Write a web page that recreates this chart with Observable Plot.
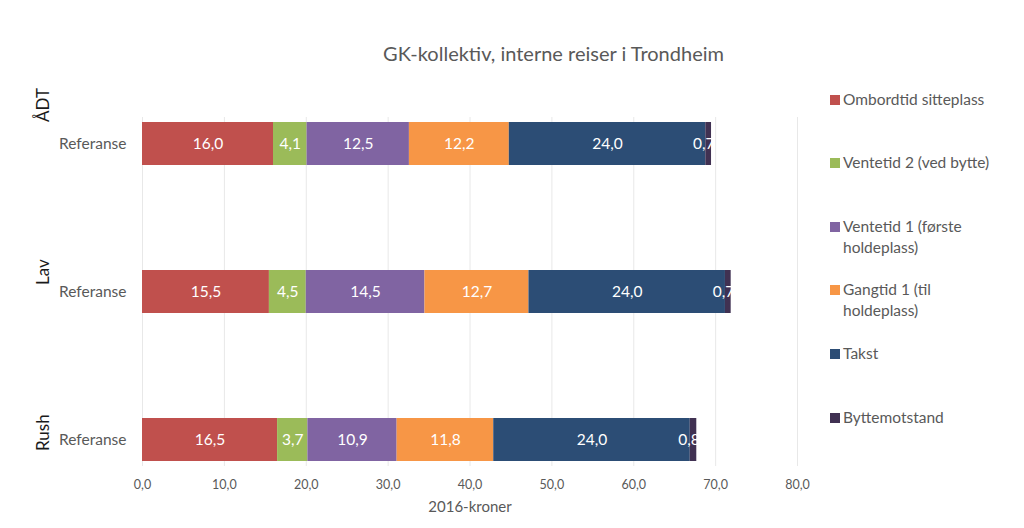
<!DOCTYPE html>
<html>
<head>
<meta charset="utf-8">
<script src="https://cdn.jsdelivr.net/npm/d3@7"></script>
<script src="https://cdn.jsdelivr.net/npm/@observablehq/plot@0.6"></script>
<style>
  html, body { margin: 0; padding: 0; background: #fff; }
  #wrap { position: relative; width: 1024px; height: 528px; font-family: Lato, "Open Sans", sans-serif; }
  #title { position: absolute; left: 142px; width: 823px; top: 41px; text-align: center; font-size: 20px; color: #595959; }
  #legend { position: absolute; left: 830px; top: 0; }
  .item { position: absolute; left: 0; width: 194px; font-size: 15.5px; color: #595959; line-height: 21px; white-space: nowrap; }
  .sw { position: absolute; left: 0; top: 6px; width: 10px; height: 10px; }
  .lab { position: absolute; left: 13px; top: 0; }
</style>
</head>
<body>
<div id="wrap">
  <div id="title"></div>
  <div id="legend"></div>
</div>
<script>
const title = "GK-kollektiv, interne reiser i Trondheim";
const groups = ["ÅDT", "Lav", "Rush"];
const rowLabel = "Referanse";
const series = ["Ombordtid sitteplass", "Ventetid 2 (ved bytte)", "Ventetid 1 (første holdeplass)", "Gangtid 1 (til holdeplass)", "Takst", "Byttemotstand"];
const legendLines = [["Ombordtid sitteplass"], ["Ventetid 2 (ved bytte)"], ["Ventetid 1 (første", "holdeplass)"], ["Gangtid 1 (til", "holdeplass)"], ["Takst"], ["Byttemotstand"]];
const colors = ["#C0504D", "#9BBB59", "#8064A2", "#F79646", "#2C4D75", "#403152"];
const valuesADT  = [16.0, 4.1, 12.5, 12.2, 24.0, 0.7];
const valuesLav  = [15.5, 4.5, 14.5, 12.7, 24.0, 0.7];
const valuesRush = [16.5, 3.7, 10.9, 11.8, 24.0, 0.8];
const xTicks = [0, 10, 20, 30, 40, 50, 60, 70, 80];
const xLabel = "2016-kroner";

const byGroup = [valuesADT, valuesLav, valuesRush];
const data = [];
groups.forEach((g, gi) => series.forEach((s, si) => data.push({group: g, series: s, value: byGroup[gi][si]})));

const fmt = v => v.toFixed(1).replace(".", ",");

document.getElementById("title").textContent = title;

const chart = Plot.plot({
  width: 1024,
  height: 528,
  marginLeft: 142,
  marginRight: 227,
  marginTop: 117,
  marginBottom: 62,
  style: {fontFamily: "Lato, 'Open Sans', sans-serif", background: "transparent"},
  x: {domain: [0, 80], ticks: xTicks},
  y: {domain: groups, paddingInner: 0.71, paddingOuter: 0.034},
  color: {domain: series, range: colors},
  marks: [
    Plot.gridX(xTicks, {stroke: "#e8e8e8", strokeOpacity: 1}),
    Plot.barX(data, Plot.stackX({x: "value", y: "group", fill: "series", order: null})),
    Plot.text(data, Plot.stackX({x: "value", y: "group", order: null,
      text: d => d.value >= 1 ? fmt(d.value) : "", fill: "white", fontSize: 15.5})),
    Plot.text(data, Plot.stackX2({x: "value", y: "group", order: null,
      text: d => d.value < 1 ? fmt(d.value) : "", fill: "white", fontSize: 15.5, textAnchor: "end", dx: 3})),
    Plot.axisX({ticks: xTicks, tickFormat: fmt, tickSize: 0, tickPadding: 14, fontSize: 12.5, color: "#595959", label: null}),
    Plot.text([xLabel], {text: d => d, frameAnchor: "bottom", dy: 45, fontSize: 15, fill: "#595959"}),
    Plot.axisY({tickFormat: () => rowLabel, tickSize: 0, tickPadding: 16, fontSize: 15.5, color: "#595959", label: null}),
    Plot.text(groups, {y: d => d, text: d => d, frameAnchor: "left", dx: -99, rotate: -90, fontSize: 17, fill: "#1a1a1a"}),
  ]
});
chart.style.position = "absolute";
chart.style.left = "0";
chart.style.top = "0";
// group labels in the reference are offset from their band centres
const labelShift = {"ÅDT": -22, "Lav": -7, "Rush": 11};
chart.querySelectorAll("text").forEach(t => {
  const s = labelShift[t.textContent];
  if (s !== undefined && t.getAttribute("transform")) {
    t.setAttribute("transform", t.getAttribute("transform").replace(/translate\(([^,]+),([^)]+)\)/, (m, a, b) => `translate(${a},${+b + s})`));
  }
});
document.getElementById("wrap").prepend(chart);

const legend = document.getElementById("legend");
const legendTops = [89, 152, 216, 279, 343, 407];
legendLines.forEach((lines, i) => {
  const it = document.createElement("div");
  it.className = "item";
  it.style.top = legendTops[i] + "px";
  const sw = document.createElement("div");
  sw.className = "sw";
  sw.style.background = colors[i];
  const lab = document.createElement("div");
  lab.className = "lab";
  lab.innerHTML = lines.map(l => l.replace(/&/g, "&amp;").replace(/</g, "&lt;")).join("<br>");
  it.appendChild(sw);
  it.appendChild(lab);
  legend.appendChild(it);
});
</script>
</body>
</html>
